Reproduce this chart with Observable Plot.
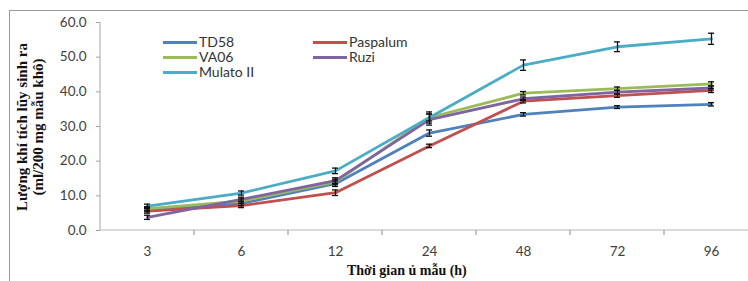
<!DOCTYPE html>
<html>
<head>
<meta charset="utf-8">
<script src="https://cdn.jsdelivr.net/npm/d3@7"></script>
<script src="https://cdn.jsdelivr.net/npm/@observablehq/plot@0.6"></script>
<style>
  html, body { margin: 0; padding: 0; background: #fff; }
  #wrap { position: relative; width: 748px; height: 281px; overflow: hidden; }
  #frame { position: absolute; left: 9px; top: 10px; width: 760px; height: 300px;
           border-left: 1.5px solid #9a9a9a; border-top: 1.5px solid #9a9a9a; box-sizing: border-box; }
  #chart { position: absolute; left: 0; top: 0; }
  .legend { position: absolute; font-family: Lato, "Open Sans", sans-serif; font-size: 14px; line-height: 14px; color: #333; }
  .legend .item { position: absolute; white-space: nowrap; display: flex; align-items: center; height: 14px; line-height: 14px; }
  .legend .sw { display: inline-block; width: 34px; height: 3px; margin-right: 2px; }
  .ytitle { position: absolute; font-family: "Liberation Serif", "Times New Roman", serif; font-weight: bold;
            font-size: 15px; color: #111; white-space: nowrap; transform-origin: center; text-align: center; }
  .xtitle { position: absolute; font-family: "Liberation Serif", "Times New Roman", serif; font-weight: bold;
            font-size: 14px; color: #111; white-space: nowrap; }
</style>
</head>
<body>
<div id="wrap">
  <div id="frame"></div>
  <div id="chart"></div>
</div>
<script>
const categories = ["3", "6", "12", "24", "48", "72", "96"];
const seriesNames = ["TD58", "Paspalum", "VA06", "Ruzi", "Mulato II"];
const seriesColors = ["#4F81BD", "#C0504D", "#9BBB59", "#8064A2", "#4BACC6"];

const TD58      = [6.0, 7.8, 13.5, 28.1, 33.5, 35.6, 36.4];
const Paspalum  = [5.6, 7.2, 10.9, 24.4, 37.3, 38.9, 40.4];
const VA06      = [6.3, 8.5, 14.0, 32.6, 39.6, 40.9, 42.3];
const Ruzi      = [3.8, 9.0, 14.4, 32.0, 38.0, 39.9, 41.1];
const MulatoII  = [7.0, 10.8, 17.2, 32.6, 47.7, 53.0, 55.3];

const errTD58     = [0.6, 0.6, 0.8, 0.9, 0.5, 0.4, 0.5];
const errPaspalum = [0.6, 0.6, 0.8, 0.5, 0.5, 0.5, 0.6];
const errVA06     = [0.6, 0.6, 0.8, 1.6, 0.5, 0.5, 0.6];
const errRuzi     = [0.6, 0.6, 0.8, 1.6, 0.5, 0.5, 0.6];
const errMulatoII = [0.6, 0.6, 0.8, 1.0, 1.5, 1.4, 1.6];

const yTicks = [0, 10, 20, 30, 40, 50, 60];

const seriesValues = [TD58, Paspalum, VA06, Ruzi, MulatoII];
const seriesErrors = [errTD58, errPaspalum, errVA06, errRuzi, errMulatoII];

const rows = [];
seriesNames.forEach((s, si) => {
  categories.forEach((c, ci) => {
    rows.push({series: s, cat: c, value: seriesValues[si][ci], err: seriesErrors[si][ci]});
  });
});

// axis lines, with x tick marks at category boundaries (derived from the x scale)
function axisLines(index, scales, values, dims) {
  const g = d3.create("svg:g");
  const xs = categories.map(c => scales.x(c));
  const step = xs[1] - xs[0];
  const y0 = scales.y(0);
  g.append("line").attr("x1", dims.marginLeft).attr("x2", dims.width)
    .attr("y1", y0).attr("y2", y0).attr("stroke", "#b5b5b5").attr("stroke-width", 1.2);
  const bounds = xs.map(x => x - step / 2).concat([xs[xs.length - 1] + step / 2]);
  bounds.slice(1).forEach(b => {
    g.append("line").attr("x1", b).attr("x2", b).attr("y1", y0).attr("y2", y0 + 5)
      .attr("stroke", "#a0a0a0").attr("stroke-width", 1.2);
  });
  g.append("line").attr("x1", dims.marginLeft).attr("x2", dims.marginLeft)
    .attr("y1", scales.y(yTicks[yTicks.length - 1])).attr("y2", y0).attr("stroke", "#b5b5b5").attr("stroke-width", 1.2);
  return g.node();
}

const plot = Plot.plot({
  width: 748,
  height: 281,
  marginLeft: 100,
  marginRight: 0,
  marginTop: 22,
  marginBottom: 51,
  style: {fontFamily: "Lato, 'Open Sans', sans-serif", fontSize: "13px", color: "#404040", background: "transparent"},
  x: {type: "point", domain: categories, range: [100, 758], padding: 0.5, label: null},
  y: {domain: [0, 60], label: null},
  color: {domain: seriesNames, range: seriesColors},
  marks: [
    Plot.axisY({ticks: yTicks, tickFormat: d => d.toFixed(1), tickSize: 4, tickPadding: 10, stroke: "#a0a0a0", fill: "#404040", fontSize: 13.5, label: null}),
    Plot.axisX({tickSize: 0, tickPadding: 16, fill: "#404040", fontSize: 13.5, label: null}),
    axisLines,
    Plot.line(rows, {x: "cat", y: "value", z: "series", stroke: "series", strokeWidth: 2.8, strokeLinejoin: "round"}),
    Plot.ruleX(rows, {x: "cat", y1: d => d.value - d.err, y2: d => d.value + d.err, stroke: "#111", strokeWidth: 1.3}),
    Plot.ruleY(rows, {x1: "cat", x2: "cat", y: d => d.value - d.err, stroke: "#111", strokeWidth: 1.3, insetLeft: -3, insetRight: -3}),
    Plot.ruleY(rows, {x1: "cat", x2: "cat", y: d => d.value + d.err, stroke: "#111", strokeWidth: 1.3, insetLeft: -3, insetRight: -3})
  ]
});
document.getElementById("chart").appendChild(plot);

// legend overlay
const wrap = document.getElementById("wrap");
const legend = document.createElement("div");
legend.className = "legend";
wrap.appendChild(legend);
const legendPos = [[163, 35], [313, 35], [163, 50], [313, 50], [163, 65]];
seriesNames.forEach((s, i) => {
  const it = document.createElement("div");
  it.className = "item";
  it.style.left = legendPos[i][0] + "px";
  it.style.top = legendPos[i][1] + "px";
  const sw = document.createElement("span");
  sw.className = "sw";
  sw.style.background = seriesColors[i];
  it.appendChild(sw);
  const tx = document.createElement("span");
  tx.textContent = s;
  tx.style.lineHeight = "14px";
  it.appendChild(tx);
  legend.appendChild(it);
});

// y-axis title (two rotated lines)
const yt = document.createElement("div");
yt.className = "ytitle";
yt.innerHTML = "Lượng khí tích lũy sinh ra<br>(ml/200 mg mẫu khô)";
yt.style.lineHeight = "16px";
yt.style.width = "220px";
yt.style.left = (30 - 110) + "px";
yt.style.top = (127 - 16) + "px";
yt.style.transform = "rotate(-90deg)";
wrap.appendChild(yt);

// x-axis title
const xt = document.createElement("div");
xt.className = "xtitle";
xt.textContent = "Thời gian ủ mẫu (h)";
xt.style.left = "347px";
xt.style.top = "263px";
wrap.appendChild(xt);
</script>
</body>
</html>
